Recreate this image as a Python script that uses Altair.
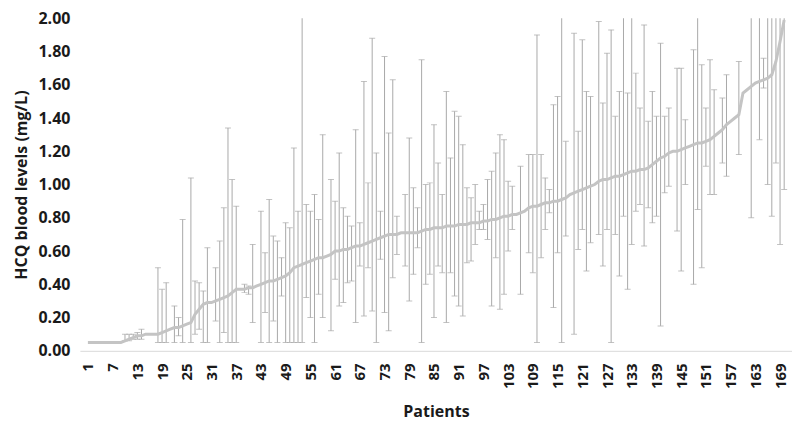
import altair as alt
import pandas as pd

# Mean HCQ level per patient (sorted), patients 1..170
mean_levels = [
    0.05, 0.05, 0.05, 0.05, 0.05, 0.05, 0.05, 0.05, 0.05, 0.06,
    0.07, 0.08, 0.09, 0.09, 0.10, 0.10, 0.10, 0.10, 0.11, 0.12,
    0.13, 0.14, 0.14, 0.15, 0.16, 0.17, 0.22, 0.25, 0.28, 0.29,
    0.29, 0.30, 0.31, 0.32, 0.33, 0.35, 0.37, 0.37, 0.37, 0.38,
    0.38, 0.39, 0.40, 0.41, 0.42, 0.42, 0.43, 0.44, 0.45, 0.47,
    0.50, 0.51, 0.52, 0.53, 0.54, 0.55, 0.56, 0.56, 0.57, 0.58,
    0.60, 0.60, 0.61, 0.61, 0.62, 0.63, 0.63, 0.64, 0.65, 0.66,
    0.67, 0.68, 0.69, 0.70, 0.70, 0.70, 0.71, 0.71, 0.71, 0.71,
    0.71, 0.72, 0.73, 0.73, 0.74, 0.74, 0.74, 0.75, 0.75, 0.75,
    0.76, 0.76, 0.76, 0.77, 0.77, 0.77, 0.78, 0.78, 0.79, 0.79,
    0.80, 0.81, 0.81, 0.82, 0.82, 0.83, 0.84, 0.86, 0.87, 0.87,
    0.88, 0.89, 0.89, 0.90, 0.90, 0.91, 0.92, 0.94, 0.95, 0.96,
    0.97, 0.98, 0.99, 1.00, 1.02, 1.03, 1.03, 1.04, 1.05, 1.05,
    1.06, 1.07, 1.08, 1.08, 1.09, 1.09, 1.10, 1.12, 1.14, 1.16,
    1.17, 1.19, 1.20, 1.20, 1.21, 1.22, 1.23, 1.24, 1.25, 1.25,
    1.26, 1.27, 1.29, 1.31, 1.33, 1.36, 1.38, 1.40, 1.42, 1.55,
    1.57, 1.59, 1.61, 1.62, 1.63, 1.64, 1.66, 1.74, 1.86, 1.99,
]
patients = list(range(1, len(mean_levels) + 1))

# Error bars (range of measured levels) for patients that have them
bar_patients = [
    10, 11, 12, 13, 14, 18, 19, 20, 22, 23, 24, 26, 27, 28, 29, 30, 32, 33, 34, 35,
    36, 37, 39, 40, 41, 43, 44, 45, 46, 47, 48, 49, 50, 51, 52, 53, 54, 55, 56, 57,
    58, 60, 61, 62, 63, 64, 65, 66, 67, 68, 69, 70, 71, 72, 73, 74, 75, 76, 78, 79,
    80, 81, 82, 83, 84, 85, 86, 87, 88, 89, 90, 91, 92, 93, 94, 95, 96, 97, 98, 99,
    100, 101, 102, 103, 104, 106, 108, 109, 110, 111, 112, 113, 114, 115, 116, 117, 119, 120, 121, 122,
    123, 125, 126, 127, 128, 129, 130, 131, 132, 133, 134, 135, 136, 137, 138, 139, 140, 141, 142, 144,
    145, 146, 148, 149, 150, 151, 152, 153, 155, 156, 159, 162, 164, 165, 166, 167, 168, 169, 170,
]
bar_low = [
    0.06, 0.06, 0.07, 0.07, 0.07, 0.05, 0.05, 0.05, 0.05, 0.09, 0.05, 0.05, 0.10, 0.13, 0.05, 0.05, 0.18, 0.05, 0.11, 0.05,
    0.05, 0.05, 0.35, 0.34, 0.17, 0.05, 0.23, 0.05, 0.18, 0.05, 0.33, 0.05, 0.05, 0.05, 0.05, 0.05, 0.32, 0.20, 0.05, 0.34,
    0.20, 0.12, 0.43, 0.27, 0.29, 0.41, 0.42, 0.17, 0.51, 0.21, 0.50, 0.24, 0.05, 0.55, 0.23, 0.12, 0.44, 0.58, 0.51, 0.30,
    0.46, 0.62, 0.05, 0.40, 0.46, 0.20, 0.51, 0.47, 0.17, 0.47, 0.33, 0.27, 0.21, 0.53, 0.54, 0.64, 0.73, 0.73, 0.67, 0.27,
    0.56, 0.25, 0.34, 0.60, 0.73, 0.34, 0.59, 0.47, 0.05, 0.56, 0.73, 0.83, 0.26, 0.59, 0.05, 0.69, 0.10, 0.61, 0.73, 0.48,
    0.65, 0.70, 0.51, 0.73, 0.05, 0.70, 0.45, 0.81, 0.37, 0.64, 0.84, 0.88, 0.63, 0.86, 0.77, 0.81, 0.15, 0.95, 0.99, 0.72,
    0.48, 1.00, 0.40, 0.85, 0.50, 1.11, 0.94, 0.94, 1.13, 1.05, 1.18, 0.80, 1.27, 1.58, 1.00, 0.81, 1.13, 0.64, 0.97,
]
bar_high = [
    0.10, 0.10, 0.10, 0.11, 0.13, 0.50, 0.37, 0.41, 0.27, 0.20, 0.79, 1.04, 0.42, 0.41, 0.36, 0.62, 0.50, 0.66, 0.86, 1.34,
    1.03, 0.87, 0.40, 0.39, 0.64, 0.84, 0.59, 0.91, 0.69, 0.66, 0.56, 0.77, 0.74, 1.22, 0.84, 2.40, 0.88, 0.84, 0.94, 0.79,
    1.30, 1.03, 0.90, 1.19, 0.86, 0.81, 0.75, 1.33, 0.77, 1.62, 1.01, 1.88, 1.19, 0.84, 1.77, 1.31, 1.63, 0.81, 0.94, 1.28,
    0.98, 0.86, 1.75, 1.00, 1.01, 1.36, 1.13, 0.94, 1.56, 1.16, 1.44, 1.41, 1.24, 0.98, 0.92, 1.00, 0.84, 0.88, 1.03, 1.08,
    1.19, 1.30, 1.27, 1.02, 0.99, 1.11, 1.18, 1.18, 1.90, 1.18, 1.04, 0.97, 1.48, 1.53, 2.30, 1.26, 1.91, 1.32, 1.87, 1.56,
    1.53, 1.98, 1.49, 1.79, 1.93, 1.41, 1.56, 2.35, 1.55, 2.20, 1.67, 1.46, 1.96, 1.38, 1.56, 1.41, 1.85, 1.41, 1.46, 1.70,
    1.70, 1.39, 1.81, 2.30, 1.72, 1.46, 1.75, 1.57, 1.52, 1.66, 1.74, 2.40, 2.50, 1.76, 2.60, 2.50, 2.70, 2.80, 2.90,
]

x_tick_values = list(range(1, 170, 6))
y_tick_values = [0.0, 0.2, 0.4, 0.6, 0.8, 1.0, 1.2, 1.4, 1.6, 1.8, 2.0]

line_df = pd.DataFrame({"patient": patients, "level": mean_levels})
bar_df = pd.DataFrame({"patient": bar_patients, "low": bar_low, "high": bar_high})

FONT = "Open Sans"
TEXT = "#1a1a1a"
BAR_COLOR = "#a9a9a9"

x_scale = alt.Scale(domain=[-0.94, 171.9], nice=False, zero=False)
y_scale = alt.Scale(domain=[0, 2], nice=False, zero=True)

x_axis = alt.Axis(
    values=x_tick_values,
    tickCount=200,
    labelAngle=270,
    labelAlign="right",
    labelBaseline="middle",
    labelPadding=12,
    labelOverlap=False,
    labelFont=FONT,
    labelFontWeight="bold",
    labelFontSize=15,
    labelColor=TEXT,
    ticks=False,
    grid=False,
    domain=True,
    domainColor="#d9d9d9",
    domainWidth=1,
    title="Patients",
    titleFont=FONT,
    titleFontWeight="bold",
    titleFontSize=16,
    titleColor=TEXT,
    titleY=53,
    titleBaseline="top",
)
y_axis = alt.Axis(
    values=y_tick_values,
    tickCount=50,
    format=".2f",
    labelPadding=10,
    labelOverlap=False,
    labelFont=FONT,
    labelFontWeight="bold",
    labelFontSize=16,
    labelColor=TEXT,
    ticks=False,
    grid=False,
    domain=False,
    title="HCQ blood levels (mg/L)",
    titleFont=FONT,
    titleFontWeight="bold",
    titleFontSize=16,
    titleColor=TEXT,
    titleX=-50,
)

rules = alt.Chart(bar_df).mark_rule(color=BAR_COLOR, strokeWidth=1, clip=True).encode(
    x=alt.X("patient:Q", scale=x_scale, axis=x_axis),
    y=alt.Y("low:Q", scale=y_scale, axis=y_axis),
    y2="high:Q",
)
caps_top = alt.Chart(bar_df).mark_tick(
    color=BAR_COLOR, orient="horizontal", size=6, thickness=1, clip=True
).encode(x="patient:Q", y="high:Q")
caps_low = alt.Chart(bar_df).mark_tick(
    color=BAR_COLOR, orient="horizontal", size=6, thickness=1, clip=True
).encode(x="patient:Q", y="low:Q")
line = alt.Chart(line_df).mark_line(color="#c4c4c4", strokeWidth=3, clip=True).encode(
    x="patient:Q", y="level:Q"
)

chart = (
    alt.layer(rules, caps_top, caps_low, line)
    .properties(
        width=713,
        height=333,
        autosize="none",
        background="white",
        padding={"left": 72, "top": 10, "right": 0, "bottom": 70},
    )
    .configure_view(strokeWidth=0)
)

chart.save("out.html", embed_options={"renderer": "svg", "actions": False})
